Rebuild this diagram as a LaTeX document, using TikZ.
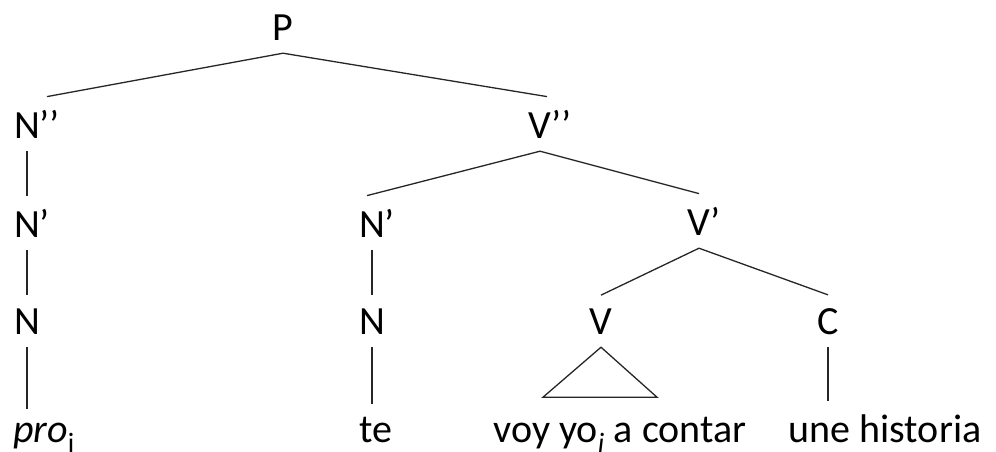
\documentclass[tikz,border=0pt]{standalone}
\usepackage{fontspec}
\setmainfont{Carlito}

\begin{document}
\begin{tikzpicture}
		[
		x=1pt, y=-1pt, font=\fontsize{40}{48}\selectfont,
		%Voreinstellung für Knoten und Äste
		kat/.style={anchor=base, inner sep=13pt},
		ast/.style={line width=1.3pt, black!85}
		]
		
		%Rahmen
		\useasboundingbox (0,0) rectangle (996,451);
		
		%Kategorien
		\node[kat] (p) at (283,40) {P};
		\node[kat] (npp) at (27,138) {N\rlap{’’}};
		\node[kat] (vpp) at (540,138) {V\rlap{’’}};
		\node[kat] (np) at (27,237) {N\rlap{’}};
		\node[kat] (np2) at (372,237) {N\rlap{’}};
		\node[kat] (vp) at (699,235) {V\rlap{’}};
		\node[kat] (n1) at (27,334) {N};
		\node[kat] (n2) at (372,334) {N};
		\node[kat] (v) at (601,334) {V};
		\node[kat] (c) at (828,334) {C};
		
		%Wörter
		\node[kat] (pro) at (44,442) {\textit{pro}\textsubscript{i}};
		\node[kat] (te) at (376,442) {te};
		\node[kat] (voy) at (620,442) {voy yo\textsubscript{\textit{i}} a contar};
		\node[kat] (hist) at (885,442) {une historia};
		
		%Äste
		\draw[ast] (p.south) -- ([xshift=20pt]npp.north);
		\draw[ast] (p.south) -- ([xshift=7pt]vpp.north);
		\draw[ast] (vpp.south) -- ([xshift=-5pt]np2.north);
		\draw[ast] (vpp.south) -- (vp.north);
		\draw[ast] (vp.south) -- (v.north);
		\draw[ast] (vp.south) -- (c.north);
		
		%senkrechte Äste
		\draw[ast] (npp.south) -- (np.north);
		\draw[ast] (np.south) -- (n1.north);
		\draw[ast] (n1.south) -- (n1.south |- pro.north);
		\draw[ast] (np2.south) -- (n2.north);
		\draw[ast] (n2.south) -- (n2.south |- te.north);
		\draw[ast] (c.south) -- (c.south |- hist.north);
		
		%Dreieck
		\draw[ast] (v.south) -- ++(-58,50) -- ++(114,0) -- cycle;
	\end{tikzpicture}
\end{document}
